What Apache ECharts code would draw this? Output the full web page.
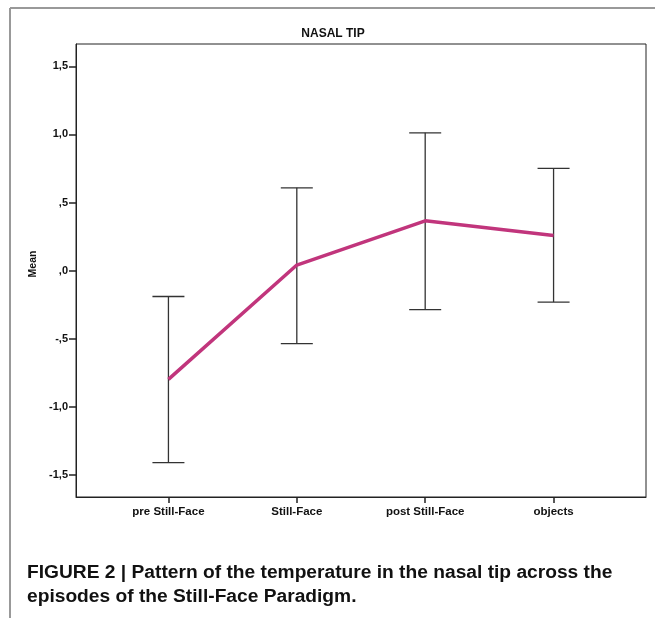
<!DOCTYPE html>
<html>
<head>
<meta charset="utf-8">
<script src="https://cdn.jsdelivr.net/npm/echarts@6/dist/echarts.min.js"></script>
<style>
  html, body { margin: 0; padding: 0; background: #fff; }
  #chart { width: 655px; height: 618px; }
</style>
</head>
<body>
<div id="chart"></div>
<script>
// episodes on the x axis
const categories = ['pre Still-Face', 'Still-Face', 'post Still-Face', 'objects']
// mean temperature change in the nasal tip
const means = [-0.80, 0.04, 0.365, 0.257]
// error bar ends
const lows = [-1.412, -0.537, -0.287, -0.232]
const highs = [-0.191, 0.608, 1.012, 0.75]
const yTicks = [-1.5, -1.0, -0.5, 0.0, 0.5, 1.0, 1.5]
const xTicks = [0, 1, 2, 3]

const font = '"Liberation Sans", Arial, sans-serif'

function fmtComma (v) {
  let s = Math.abs(v).toFixed(1).replace('.', ',')
  if (s.charAt(0) === '0') s = s.slice(1)
  return (v < 0 ? '-' : '') + s
}

const chart = echarts.init(document.getElementById('chart'))

const option = {
  backgroundColor: '#fff',
  animation: false,
  grid: {
    left: 76,
    right: 9,
    top: 44,
    bottom: 121,
    show: true,
    borderColor: '#222',
    borderWidth: 1
  },
  xAxis: {
    type: 'value',
    min: -0.72,
    max: 3.72,
    axisLine: { onZero: false, lineStyle: { color: '#222', width: 1 } },
    splitLine: { show: false },
    axisTick: {
      customValues: xTicks,
      length: 6,
      lineStyle: { color: '#222', width: 1.5 }
    },
    axisLabel: {
      customValues: xTicks,
      margin: 9,
      color: '#111',
      fontFamily: font,
      fontWeight: 'bold',
      fontSize: 11.5,
      formatter: v => categories[Math.round(v)]
    }
  },
  yAxis: {
    type: 'value',
    min: -1.665,
    max: 1.665,
    axisLine: { show: true, onZero: false, lineStyle: { color: '#222', width: 1 } },
    splitLine: { show: false },
    axisTick: {
      customValues: yTicks,
      length: 7,
      lineStyle: { color: '#222', width: 1.5 }
    },
    axisLabel: {
      customValues: yTicks,
      margin: 8,
      color: '#111',
      fontFamily: font,
      fontWeight: 'bold',
      fontSize: 11,
      formatter: fmtComma
    }
  },
  series: [
    {
      type: 'custom',
      name: 'error',
      data: xTicks.map((x, i) => [x, lows[i], highs[i]]),
      renderItem (params, api) {
        const top = api.coord([api.value(0), api.value(2)])
        const bot = api.coord([api.value(0), api.value(1)])
        const hw = 16
        const style = { stroke: '#333', lineWidth: 1.3 }
        return {
          type: 'group',
          children: [
            { type: 'line', shape: { x1: top[0], y1: top[1], x2: bot[0], y2: bot[1] }, style },
            { type: 'line', shape: { x1: top[0] - hw, y1: top[1], x2: top[0] + hw, y2: top[1] }, style },
            { type: 'line', shape: { x1: bot[0] - hw, y1: bot[1], x2: bot[0] + hw, y2: bot[1] }, style }
          ]
        }
      },
      z: 2
    },
    {
      type: 'line',
      name: 'Mean',
      data: xTicks.map((x, i) => [x, means[i]]),
      symbol: 'none',
      lineStyle: { color: '#c1357c', width: 3.5 },
      z: 3
    }
  ],
  graphic: [
    { type: 'line', shape: { x1: 10, y1: 8, x2: 655, y2: 8 }, style: { stroke: '#999', lineWidth: 2 } },
    { type: 'line', shape: { x1: 10, y1: 8, x2: 10, y2: 618 }, style: { stroke: '#999', lineWidth: 2 } },
    {
      type: 'text',
      x: 333,
      y: 34,
      style: {
        text: 'NASAL TIP',
        fill: '#111',
        font: 'bold 12px ' + font,
        textAlign: 'center',
        textVerticalAlign: 'middle'
      }
    },
    {
      type: 'text',
      x: 33.5,
      y: 264,
      rotation: Math.PI / 2,
      style: {
        text: 'Mean',
        fill: '#111',
        font: 'bold 10.5px ' + font,
        textAlign: 'center',
        textVerticalAlign: 'middle'
      }
    },
    {
      type: 'text',
      x: 27,
      y: 573,
      style: {
        text: 'FIGURE 2 | Pattern of the temperature in the nasal tip across the',
        fill: '#111',
        font: 'bold 19.2px ' + font,
        textAlign: 'left',
        textVerticalAlign: 'middle'
      }
    },
    {
      type: 'text',
      x: 27,
      y: 597,
      style: {
        text: 'episodes of the Still-Face Paradigm.',
        fill: '#111',
        font: 'bold 19.2px ' + font,
        textAlign: 'left',
        textVerticalAlign: 'middle'
      }
    }
  ]
}

chart.setOption(option)
</script>
</body>
</html>
